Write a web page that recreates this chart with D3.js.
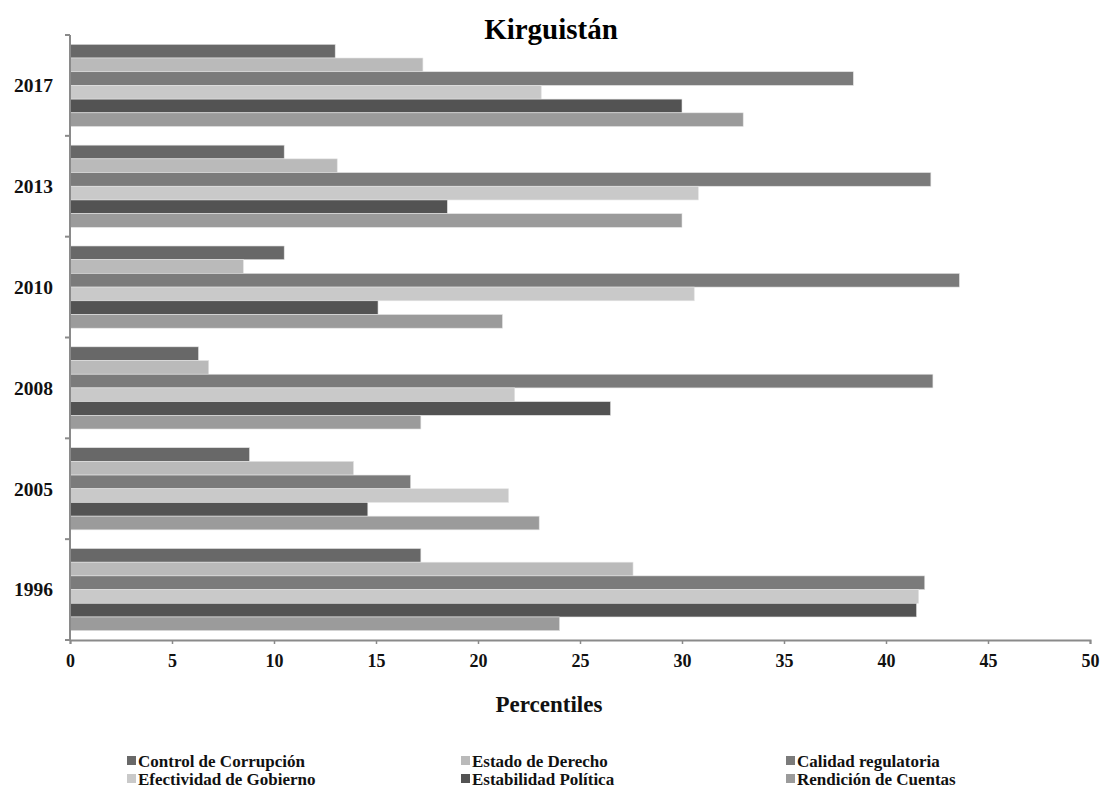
<!DOCTYPE html>
<html>
<head>
<meta charset="utf-8">
<script src="https://cdn.jsdelivr.net/npm/d3@7"></script>
<style>
  html, body { margin: 0; padding: 0; background: #fff; }
  svg { display: block; }
</style>
</head>
<body>
<svg id="chart" width="1102" height="788"></svg>
<script>
// Years, top to bottom
const years = ["2017", "2013", "2010", "2008", "2005", "1996"];

// Governance indicators (series order inside each year group)
const series = [
  "Control de Corrupción",
  "Estado de Derecho",
  "Calidad regulatoria",
  "Efectividad de Gobierno",
  "Estabilidad Política",
  "Rendición de Cuentas"
];

// Percentile values per indicator, aligned with `years`
const controlCorrupcion   = [13.0, 10.5, 10.5,  6.3,  8.8, 17.2];
const estadoDerecho       = [17.3, 13.1,  8.5,  6.8, 13.9, 27.6];
const calidadRegulatoria  = [38.4, 42.2, 43.6, 42.3, 16.7, 41.9];
const efectividadGobierno = [23.1, 30.8, 30.6, 21.8, 21.5, 41.6];
const estabilidadPolitica = [30.0, 18.5, 15.1, 26.5, 14.6, 41.5];
const rendicionCuentas    = [33.0, 30.0, 21.2, 17.2, 23.0, 24.0];

const xTicks = [0, 5, 10, 15, 20, 25, 30, 35, 40, 45, 50];

const seriesValues = [
  controlCorrupcion, estadoDerecho, calidadRegulatoria,
  efectividadGobierno, estabilidadPolitica, rendicionCuentas
];
const colors = ["#686868", "#bababa", "#7b7b7b", "#c9c9c9", "#535353", "#9b9b9b"];

const svg = d3.select("#chart");
const font = "'Liberation Serif', 'Times New Roman', serif";

const plotLeft = 70, plotRight = 1090, plotTop = 35, plotBottom = 640;

const x = d3.scaleLinear().domain([0, 50]).range([plotLeft, plotRight]);
const y = d3.scaleBand().domain(years).range([plotTop, plotBottom]).padding(0);
const inner = d3.scaleBand().domain(series).range([0, y.bandwidth()]).paddingInner(0).paddingOuter(0.68);
const color = d3.scaleOrdinal().domain(series).range(colors);

// Bars
const rows = [];
years.forEach((yr, i) => {
  series.forEach((s, j) => rows.push({ year: yr, series: s, value: seriesValues[j][i] }));
});

svg.append("g")
  .selectAll("rect")
  .data(rows)
  .join("rect")
  .attr("x", x(0))
  .attr("y", d => y(d.year) + inner(d.series))
  .attr("width", d => x(d.value) - x(0))
  .attr("height", inner.bandwidth())
  .attr("fill", d => color(d.series))
  .attr("stroke", "#e4e4e4")
  .attr("stroke-width", 0.6);

// Y axis: line with ticks at band boundaries
const axisColor = "#8a8a8a";
const yAxis = svg.append("g");
yAxis.append("line")
  .attr("x1", plotLeft).attr("x2", plotLeft)
  .attr("y1", plotTop).attr("y2", plotBottom)
  .attr("stroke", axisColor).attr("stroke-width", 2);
const boundaries = years.map(yr => y(yr)).concat([plotBottom]);
yAxis.selectAll("line.tick")
  .data(boundaries)
  .join("line")
  .attr("class", "tick")
  .attr("x1", plotLeft - 5).attr("x2", plotLeft)
  .attr("y1", d => d).attr("y2", d => d)
  .attr("stroke", axisColor).attr("stroke-width", 2);
yAxis.selectAll("text")
  .data(years)
  .join("text")
  .attr("x", 53)
  .attr("y", d => y(d) + y.bandwidth() / 2)
  .attr("dy", "0.35em")
  .attr("text-anchor", "end")
  .attr("font-family", font)
  .attr("font-weight", "bold")
  .attr("font-size", 19.5)
  .attr("fill", "#111")
  .text(d => d);

// X axis
const xAxis = svg.append("g")
  .attr("transform", `translate(0,${plotBottom})`)
  .call(d3.axisBottom(x).tickValues(xTicks).tickSize(4).tickPadding(10).tickFormat(d3.format("d")));
xAxis.select(".domain").attr("stroke", axisColor).attr("stroke-width", 2);
xAxis.selectAll(".tick line").attr("stroke", axisColor).attr("stroke-width", 1.5);
xAxis.selectAll(".tick text")
  .attr("font-family", font)
  .attr("font-weight", "bold")
  .attr("font-size", 18)
  .attr("fill", "#111");

// Title
svg.append("text")
  .attr("x", 551).attr("y", 39)
  .attr("text-anchor", "middle")
  .attr("font-family", font)
  .attr("font-weight", "bold")
  .attr("font-size", 29)
  .attr("fill", "#000")
  .text("Kirguistán");

// X axis title
svg.append("text")
  .attr("x", 549).attr("y", 712)
  .attr("text-anchor", "middle")
  .attr("font-family", font)
  .attr("font-weight", "bold")
  .attr("font-size", 23)
  .attr("fill", "#111")
  .text("Percentiles");

// Legend: 3 columns x 2 rows
const legendCols = [127, 461, 786];
const legendRows = [761, 779];
const legend = svg.append("g");
series.forEach((s, i) => {
  const cx = legendCols[i % 3];
  const cy = legendRows[Math.floor(i / 3)];
  const g = legend.append("g").attr("transform", `translate(${cx},${cy})`);
  g.append("rect")
    .attr("x", 0).attr("y", -5)
    .attr("width", 9).attr("height", 9)
    .attr("fill", color(s));
  g.append("text")
    .attr("x", 11).attr("y", 0)
    .attr("dy", "0.35em")
    .attr("font-family", font)
    .attr("font-weight", "bold")
    .attr("font-size", 17)
    .attr("fill", "#111")
    .text(s);
});
</script>
</body>
</html>
